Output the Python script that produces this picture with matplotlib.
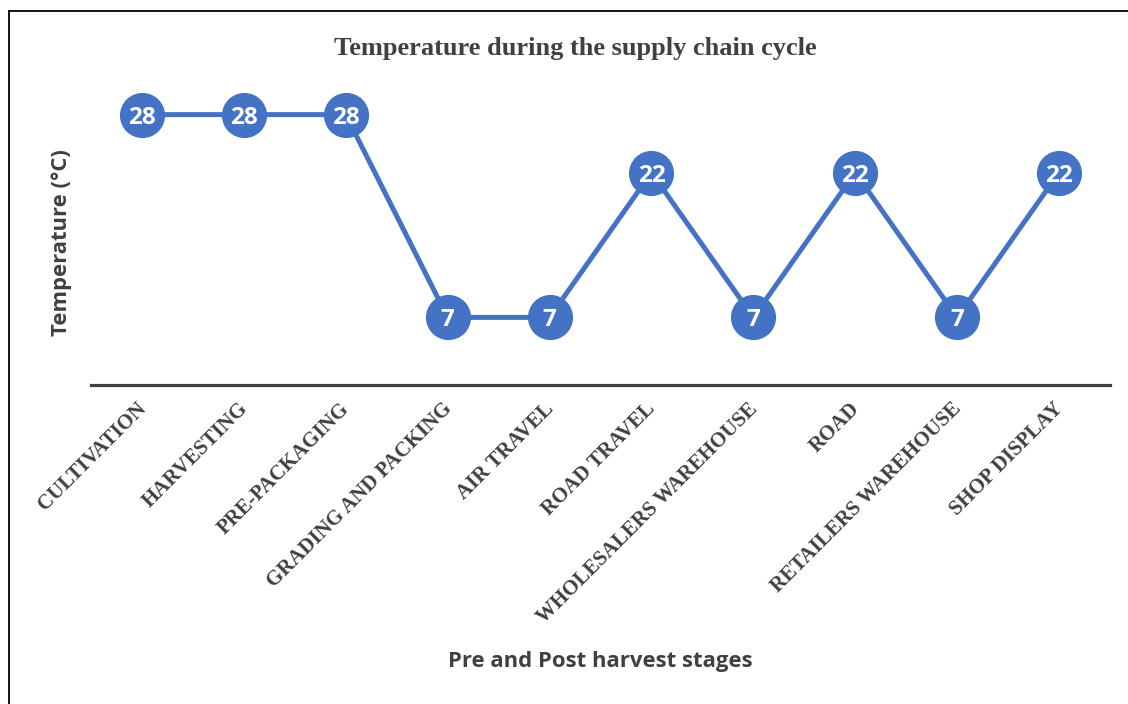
import matplotlib
matplotlib.use("Agg")
import matplotlib.pyplot as plt
from matplotlib.lines import Line2D
from matplotlib.transforms import ScaledTranslation

stages = ["CULTIVATION", "HARVESTING", "PRE-PACKAGING", "GRADING AND PACKING",
          "AIR TRAVEL", "ROAD TRAVEL", "WHOLESALERS WAREHOUSE", "ROAD",
          "RETAILERS WAREHOUSE", "SHOP DISPLAY"]
temps = [28, 28, 28, 7, 7, 22, 7, 22, 7, 22]

W, H = 1128, 704
fig = plt.figure(figsize=(W / 100, H / 100), dpi=100)

# plot area in pixels: x 91..1110, y value 0 at 385, 32 at ~76
y0, y_top = 385, 76
ax = fig.add_axes([91 / W, 1 - y0 / H, (1110 - 91) / W, (y0 - y_top) / H])

blue = "#4472C4"
grey = "#404040"
x = list(range(len(stages)))
ax.plot(x, temps, color=blue, lw=3.6, marker="o", ms=31.5,
        markerfacecolor=blue, markeredgecolor=blue, zorder=2)
for xi, t in zip(x, temps):
    ax.text(xi, t, str(t), ha="center", va="center_baseline", color="white",
            fontsize=17.5, fontweight="bold", family="Open Sans", zorder=3)

ax.set_xlim(-0.5, len(stages) - 0.5)
ax.set_ylim(0, 32)
ax.set_yticks([])
ax.set_xticks(x)
ax.set_xticklabels(stages, rotation=45, ha="right", va="top", rotation_mode="anchor",
                   family="Liberation Serif", fontweight="bold", fontsize=15, color=grey)
ax.tick_params(axis="x", length=0, pad=10)
# nudge the labels a little to the left like the original
shift = ScaledTranslation(-6 / 100, 0, fig.dpi_scale_trans)
for lbl in ax.get_xticklabels():
    lbl.set_transform(lbl.get_transform() + shift)
for s in ["left", "right", "top"]:
    ax.spines[s].set_visible(False)
ax.spines["bottom"].set_color(grey)
ax.spines["bottom"].set_linewidth(2.3)

fig.text(575 / W, 1 - 48 / H, "Temperature during the supply chain cycle",
         ha="center", va="center", family="Liberation Serif", fontweight="bold",
         fontsize=19, color=grey)
fig.text(62 / W, 1 - 243 / H, "Temperature (°C)", rotation=90, ha="center", va="center",
         family="Open Sans", fontweight="bold", fontsize=15.8, color=grey)
fig.text(600 / W, 1 - 662 / H, "Pre and Post harvest stages", ha="center", va="center",
         family="Open Sans", fontweight="bold", fontsize=15.9, color=grey)

# outer frame (only left and top edges visible)
fig.add_artist(Line2D([8.5 / W, 8.5 / W], [0, 1 - 11 / H], color="black", lw=1.3))
fig.add_artist(Line2D([8.5 / W, 1], [1 - 11 / H, 1 - 11 / H], color="black", lw=1.3))

fig.savefig("out.png", dpi=100)
